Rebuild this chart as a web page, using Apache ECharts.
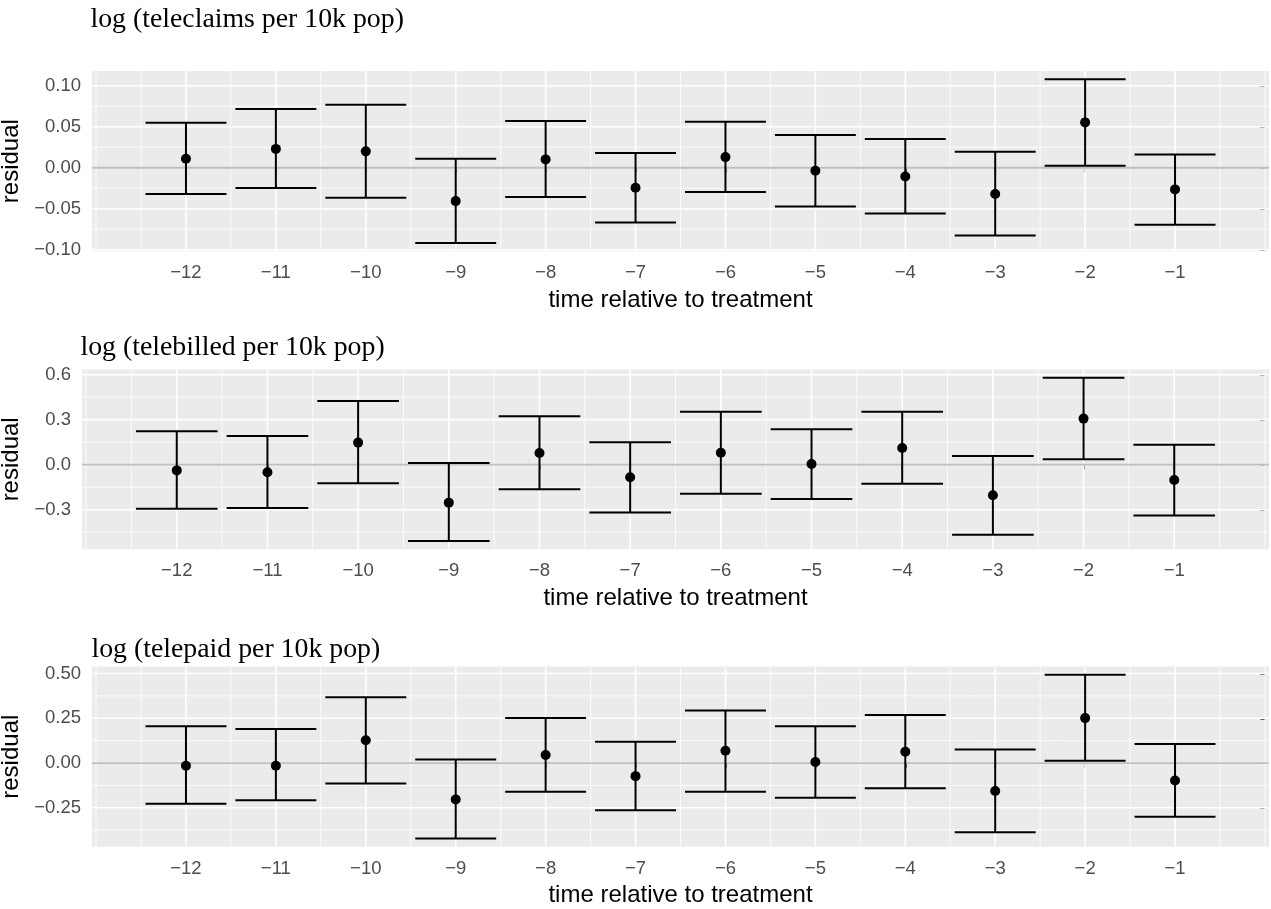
<!DOCTYPE html>
<html>
<head>
<meta charset="utf-8">
<script src="https://cdn.jsdelivr.net/npm/echarts@6/dist/echarts.min.js"></script>
<style>
  html, body { margin: 0; padding: 0; background: #ffffff; }
  #chart { width: 1271px; height: 909px; }
</style>
</head>
<body>
<div id="chart"></div>
<script>
// Event time relative to treatment (x positions of the estimates)
const periods = [-12, -11, -10, -9, -8, -7, -6, -5, -4, -3, -2, -1];

// log (teleclaims per 10k pop)
const claimsEst = [0.011, 0.023, 0.020, -0.0407, 0.0102, -0.0244, 0.013, -0.0037, -0.0106, -0.0321, 0.0553, -0.0264];
const claimsLo  = [-0.032, -0.0248, -0.0366, -0.0919, -0.0358, -0.0667, -0.0297, -0.0472, -0.0557, -0.0825, 0.0024, -0.0695];
const claimsHi  = [0.0549, 0.0715, 0.0768, 0.011, 0.0569, 0.0179, 0.0561, 0.0398, 0.035, 0.0195, 0.108, 0.0163];

// log (telebilled per 10k pop)
const billedEst = [-0.038, -0.051, 0.147, -0.253, 0.078, -0.084, 0.080, 0.004, 0.111, -0.204, 0.307, -0.102];
const billedLo  = [-0.293, -0.289, -0.124, -0.509, -0.164, -0.318, -0.193, -0.229, -0.127, -0.467, 0.036, -0.338];
const billedHi  = [0.222, 0.191, 0.424, 0.011, 0.322, 0.149, 0.353, 0.236, 0.353, 0.058, 0.580, 0.133];

// log (telepaid per 10k pop)
const paidEst = [-0.015, -0.015, 0.127, -0.203, 0.045, -0.073, 0.069, 0.006, 0.063, -0.156, 0.251, -0.097];
const paidLo  = [-0.227, -0.208, -0.114, -0.422, -0.160, -0.264, -0.160, -0.194, -0.141, -0.387, 0.013, -0.300];
const paidHi  = [0.205, 0.190, 0.367, 0.020, 0.251, 0.119, 0.294, 0.205, 0.268, 0.076, 0.493, 0.106];

// Tick positions
const xMajorTicks = [-12, -11, -10, -9, -8, -7, -6, -5, -4, -3, -2, -1];
const xMinorTicks = [-13, -12.5, -11.5, -10.5, -9.5, -8.5, -7.5, -6.5, -5.5, -4.5, -3.5, -2.5, -1.5, -0.5, 0];
const claimsMajorTicks = [-0.1, -0.05, 0, 0.05, 0.1];
const claimsMinorTicks = [-0.075, -0.025, 0.025, 0.075];
const billedMajorTicks = [-0.3, 0, 0.3, 0.6];
const billedMinorTicks = [-0.45, -0.15, 0.15, 0.45];
const paidMajorTicks = [-0.25, 0, 0.25, 0.5];
const paidMinorTicks = [-0.375, -0.125, 0.125, 0.375];

const panelTitles = ['log (teleclaims per 10k pop)', 'log (telebilled per 10k pop)', 'log (telepaid per 10k pop)'];
const xTitle = 'time relative to treatment';
const yTitle = 'residual';

const CAP_HALF = 0.45;       // half width of the error-bar caps, in x units
const EXPAND = 0.05;         // 5% padding on each side of the data range

const SANS = 'Liberation Sans, Arial, Helvetica, sans-serif';
const SERIF = 'Liberation Serif, Times New Roman, serif';

function minus(s) { return String(s).replace('-', '\u2212'); }

function paddedRange(lo, hi) {
  const span = hi - lo;
  return [lo - span * EXPAND, hi + span * EXPAND];
}

const xRange = paddedRange(Math.min(...periods) - CAP_HALF, Math.max(...periods) + CAP_HALF);

const panels = [
  { est: claimsEst, lo: claimsLo, hi: claimsHi, major: claimsMajorTicks, minor: claimsMinorTicks, digits: 2,
    grid: { left: 92, top: 71, height: 180.3 }, titleTop: 6, titleLeft: 90.5 },
  { est: billedEst, lo: billedLo, hi: billedHi, major: billedMajorTicks, minor: billedMinorTicks, digits: 1,
    grid: { left: 82, top: 369.5, height: 179.7 }, titleTop: 334, titleLeft: 80.5 },
  { est: paidEst, lo: paidLo, hi: paidHi, major: paidMajorTicks, minor: paidMinorTicks, digits: 2,
    grid: { left: 92, top: 666.6, height: 180.2 }, titleTop: 636, titleLeft: 91.5 }
];

// Background grid lines: [value, orientation (0 = vertical, 1 = horizontal, 2 = zero line), isMajor]
function renderGridLine(params, api) {
  const cs = params.coordSys;
  const v = api.value(0), orient = api.value(1), major = api.value(2);
  if (orient === 0) {
    const x = api.coord([v, 0])[0];
    return { type: 'line', shape: { x1: x, y1: cs.y, x2: x, y2: cs.y + cs.height },
             style: { stroke: '#ffffff', lineWidth: major ? 1.6 : 0.8 } };
  }
  const y = api.coord([xRange[0], v])[1];
  return { type: 'line', shape: { x1: cs.x, y1: y, x2: cs.x + cs.width, y2: y },
           style: { stroke: orient === 2 ? '#bebebe' : '#ffffff', lineWidth: orient === 2 ? 1.8 : (major ? 1.6 : 0.8) } };
}

function renderErrorBar(params, api) {
  const x = api.value(0), lo = api.value(1), hi = api.value(2);
  const pLo = api.coord([x, lo]);
  const pHi = api.coord([x, hi]);
  const left = api.coord([x - CAP_HALF, lo])[0];
  const right = api.coord([x + CAP_HALF, lo])[0];
  const style = { stroke: '#000000', lineWidth: 2 };
  return {
    type: 'group',
    children: [
      { type: 'line', shape: { x1: pLo[0], y1: pLo[1], x2: pHi[0], y2: pHi[1] }, style },
      { type: 'line', shape: { x1: left, y1: pHi[1], x2: right, y2: pHi[1] }, style },
      { type: 'line', shape: { x1: left, y1: pLo[1], x2: right, y2: pLo[1] }, style }
    ]
  };
}

const option = {
  animation: false,
  backgroundColor: '#ffffff',
  title: [], grid: [], xAxis: [], yAxis: [], series: []
};

panels.forEach((p, i) => {
  const yRange = paddedRange(Math.min(...p.lo), Math.max(...p.hi));

  option.title.push({
    text: panelTitles[i], left: p.titleLeft, top: p.titleTop, padding: 0,
    textStyle: { fontFamily: SERIF, fontSize: 27.8, fontWeight: 'normal', color: '#000000' }
  });

  option.grid.push({ left: p.grid.left, right: 2, top: p.grid.top, height: p.grid.height,
                     containLabel: false, outerBoundsMode: 'none',
                     show: true, backgroundColor: '#ebebeb', borderWidth: 0 });

  option.xAxis.push({
    type: 'value', gridIndex: i, min: xRange[0], max: xRange[1],
    name: xTitle, nameLocation: 'middle', nameGap: 48.8,
    nameTextStyle: { fontFamily: SANS, fontSize: 24, color: '#000000', verticalAlign: 'middle' },
    axisLine: { show: false },
    splitLine: { show: false },
    axisTick: { show: true, customValues: xMajorTicks, length: 4.6, lineStyle: { color: '#333333', width: 1.5 } },
    axisLabel: { customValues: xMajorTicks, margin: 12.5, color: '#4d4d4d', fontFamily: SANS, fontSize: 18.5,
                 formatter: v => minus(v) }
  });

  option.yAxis.push({
    type: 'value', gridIndex: i, min: yRange[0], max: yRange[1],
    name: yTitle, nameLocation: 'middle', nameGap: p.grid.left - 20, nameRotate: 90,
    nameTextStyle: { fontFamily: SANS, fontSize: 24, color: '#000000', verticalAlign: 'middle' },
    axisLine: { show: false },
    splitLine: { show: false },
    axisTick: { show: true, customValues: p.major, length: 4.6, lineStyle: { color: '#333333', width: 1.5 } },
    axisLabel: { customValues: p.major, margin: 11, color: '#4d4d4d', fontFamily: SANS, fontSize: 18.5,
                 formatter: v => minus(Number(v).toFixed(p.digits)) }
  });

  const gridData = []
    .concat(xMinorTicks.map(v => [v, 0, 0]))
    .concat(p.minor.map(v => [v, 1, 0]))
    .concat(xMajorTicks.map(v => [v, 0, 1]))
    .concat(p.major.map(v => [v, 1, 1]))
    .concat([[0, 2, 0]]);

  option.series.push({
    type: 'custom', xAxisIndex: i, yAxisIndex: i, silent: true, z: 1,
    renderItem: renderGridLine, data: gridData
  });

  option.series.push({
    type: 'custom', xAxisIndex: i, yAxisIndex: i, silent: true, z: 3,
    encode: { x: 0, y: [1, 2] },
    renderItem: renderErrorBar,
    data: periods.map((t, k) => [t, p.lo[k], p.hi[k]])
  });

  option.series.push({
    type: 'scatter', xAxisIndex: i, yAxisIndex: i, silent: true, z: 4,
    symbol: 'circle', symbolSize: 10,
    itemStyle: { color: '#000000', opacity: 1 },
    data: periods.map((t, k) => [t, p.est[k]])
  });
});

const chart = echarts.init(document.getElementById('chart'), null, { renderer: 'canvas' });
chart.setOption(option);
</script>
</body>
</html>
